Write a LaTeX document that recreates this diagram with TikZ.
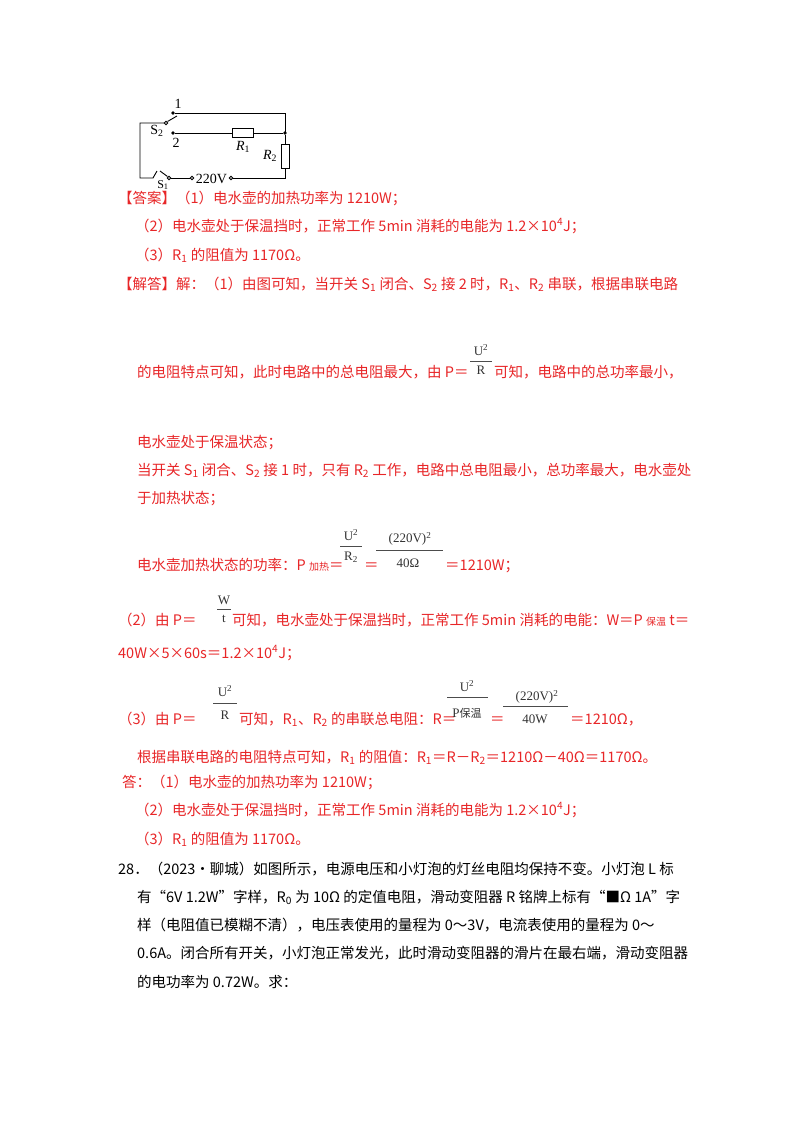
\documentclass[tikz,border=0pt]{standalone}
\usepackage{fontspec}
\setmainfont{Liberation Serif}
\newfontfamily\cjk{Noto Sans CJK SC}
\definecolor{ans}{RGB}{232,38,40}
\newcommand{\sx}[1]{\textsuperscript{#1}}
\newcommand{\bx}[1]{\textsubscript{#1}}
\begin{document}
\begin{tikzpicture}[x=1bp,y=-1bp,
  ln/.style={anchor=base west,inner sep=0,font=\cjk\fontsize{14.5bp}{16bp}\selectfont},
  rl/.style={ln,text=ans},
  fr/.style={inner sep=0,font=\fontsize{13bp}{15bp}\selectfont,text=black!80},
  cl/.style={inner sep=0,font=\fontsize{14bp}{15bp}\selectfont},
  wire/.style={line width=0.9bp}]
\useasboundingbox[fill=white] (0,0) rectangle (800,1132);
% circuit
\coordinate (tl) at (140,123);
\coordinate (bl) at (140,178);
\coordinate (tr) at (285,113);
\coordinate (jn) at (285,133);
\coordinate (br) at (285,178);
\node[wire,circle,draw,inner sep=1.2bp] (p2) at (166,123) {};
\node[circle,fill,inner sep=1.3bp] (c1) at (173,113) {};
\node[circle,fill,inner sep=1.3bp] (c2) at (173,133) {};
\node[circle,fill,inner sep=1.3bp] (jd) at (jn) {};
\node[wire,draw,minimum width=21bp,minimum height=9bp,inner sep=0] (r1) at (243,133) {};
\node[wire,draw,minimum width=8bp,minimum height=24bp,inner sep=0] (r2) at (285,156) {};
\node[wire,circle,draw,inner sep=1.2bp] (p1) at (169,178) {};
\node[wire,circle,draw,inner sep=1.2bp] (v1) at (192,178) {};
\node[wire,circle,draw,inner sep=1.2bp] (v2) at (231,178) {};
\coordinate (s1a) at (153,178);
\draw[wire] (p2.west) -- (tl) -- (bl) -- (s1a) -- (157,171);
\draw[wire] (p2.north east) -- (177,116);
\draw[wire] (c1) -- (tr) -- (jn);
\draw[wire] (c2) -- (r1.west) (r1.east) -- (jd) -- (r2.north) (r2.south) -- (br) -- (v2.east);
\draw[wire] (p1.east) -- (v1.west);
\draw[wire] (p1.north west) -- (160,171);
\node[cl] (l1) at (178,104) {1};
\node[cl] (l2) at (176,143) {2};
\node[cl] (s2) at (157,131) {S\bx{2}};
\node[cl,font=\fontsize{12bp}{13bp}\selectfont] (s1) at (163,185) {S\bx{1}};
\node[cl] (lr1) at (243,147) {\itshape R\bx{\upshape 1}};
\node[cl] (lr2) at (270,156) {\itshape R\bx{\upshape 2}};
\node[cl] (v) at (211.5,179) {220V};
% answer text
\node[rl] (a1) at (118,203) {【答案】（1）电水壶的加热功率为 1210W；};
\node[rl] (a2) at (135,231) {（2）电水壶处于保温挡时，正常工作 5min 消耗的电能为 1.2×10\sx{4}J；};
\node[rl] (a3) at (135,260) {（3）R\bx{1} 的阻值为 1170Ω。};
\node[rl] (a4) at (118,289) {【解答】解：（1）由图可知，当开关 S\bx{1} 闭合、S\bx{2} 接 2 时，R\bx{1}、R\bx{2} 串联，根据串联电路};
\node[rl] (b1) at (137,377) {的电阻特点可知，此时电路中的总电阻最大，由 P＝};
\node[rl] (b1b) at (494,377) {可知，电路中的总功率最小，};
\node[fr] (f1u) at (481,350) {U\sx{2}};
\draw[black!70] (470,361) -- (492,361);
\node[fr] (f1d) at (481,370) {R};
\node[rl] (b2) at (137,447) {电水壶处于保温状态；};
\node[rl] (b3) at (137,475) {当开关 S\bx{1} 闭合、S\bx{2} 接 1 时，只有 R\bx{2} 工作，电路中总电阻最小，总功率最大，电水壶处};
\node[rl] (b4) at (137,503) {于加热状态；};
\node[rl] (b5) at (137,570) {电水壶加热状态的功率：P {\fontsize{10bp}{11bp}\selectfont 加热}＝};
\node[rl] (b5b) at (364,570) {＝};
\node[rl] (b5c) at (445,570) {＝1210W；};
\node[fr] (f2u) at (351,535) {U\sx{2}};
\draw[black!70] (340,546) -- (362,546);
\node[fr] (f2d) at (351,557) {R\bx{2}};
\node[fr] (f3u) at (410,539) {(220V)\sx{2}};
\draw[black!70] (376,550) -- (443,550);
\node[fr] (f3d) at (408,563) {40Ω};
\node[rl] (c1t) at (118,625) {（2）由 P＝};
\node[rl] (c1b) at (232,625) {可知，电水壶处于保温挡时，正常工作 5min 消耗的电能：W＝P {\fontsize{10bp}{11bp}\selectfont 保温} t＝};
\node[fr] (f4u) at (224,600) {W};
\draw[black!70] (217,609) -- (231,609);
\node[fr] (f4d) at (224,619) {t};
\node[rl] (c2t) at (118,658) {40W×5×60s＝1.2×10\sx{4}J；};
\node[rl] (d1) at (118,724) {（3）由 P＝};
\node[rl] (d1b) at (239,724) {可知，R\bx{1}、R\bx{2} 的串联总电阻：R＝};
\node[rl] (d1c) at (490,724) {＝};
\node[rl] (d1d) at (570,724) {＝1210Ω，};
\node[fr] (f5u) at (225,691) {U\sx{2}};
\draw[black!70] (213,703) -- (237,703);
\node[fr] (f5d) at (225,715) {R};
\node[fr] (f6u) at (467,686) {U\sx{2}};
\draw[black!70] (447,697) -- (488,697);
\node[fr] (f6d) at (467,713) {P{\cjk\fontsize{11bp}{12bp}\selectfont 保温}};
\node[fr] (f7u) at (537,697) {(220V)\sx{2}};
\draw[black!70] (503,706) -- (568,706);
\node[fr] (f7d) at (535,719) {40W};
\node[rl] (d2) at (137,762) {根据串联电路的电阻特点可知，R\bx{1} 的阻值：R\bx{1}＝R－R\bx{2}＝1210Ω－40Ω＝1170Ω。};
\node[rl] (e1) at (122,787) {答：（1）电水壶的加热功率为 1210W；};
\node[rl] (e2) at (135,815) {（2）电水壶处于保温挡时，正常工作 5min 消耗的电能为 1.2×10\sx{4}J；};
\node[rl] (e3) at (135,844) {（3）R\bx{1} 的阻值为 1170Ω。};
\node[ln] (g1) at (118,874) {28．（2023•聊城）如图所示，电源电压和小灯泡的灯丝电阻均保持不变。小灯泡 L 标};
\node[ln] (g2) at (137,902) {有“6V 1.2W”字样，R\bx{0} 为 10Ω 的定值电阻，滑动变阻器 R 铭牌上标有“■Ω 1A”字};
\node[ln] (g3) at (137,930) {样（电阻值已模糊不清），电压表使用的量程为 0～3V，电流表使用的量程为 0～};
\node[ln] (g4) at (137,958) {0.6A。闭合所有开关，小灯泡正常发光，此时滑动变阻器的滑片在最右端，滑动变阻器};
\node[ln] (g5) at (137,987) {的电功率为 0.72W。求：};
\end{tikzpicture}
\end{document}
